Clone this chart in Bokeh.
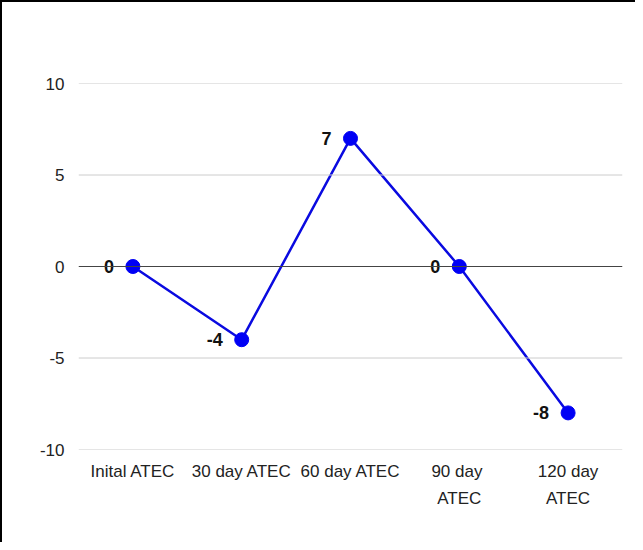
from bokeh.plotting import figure
from bokeh.models import FixedTicker, Span, ColumnDataSource, PrintfTickFormatter
from bokeh.core.properties import value
from bokeh.embed import file_html
from bokeh.resources import INLINE

categories = ["Inital ATEC", "30 day ATEC", "60 day ATEC", "90  day\nATEC", "120 day\nATEC"]
scores = [0, -4, 7, 0, -8]
score_labels = ["0", "-4", "7", "0", "-8"]
y_ticks = [-10, -5, 0, 5, 10]

src = ColumnDataSource(dict(x=categories, y=scores, t=score_labels))

p = figure(x_range=categories, y_range=(-10, 10), width=635, height=542,
           output_backend="svg", toolbar_location=None,
           min_border_left=76, min_border_right=15, min_border_top=81, min_border_bottom=95)
p.x_range.range_padding = 0
p.outline_line_color = None
p.background_fill_color = "white"
p.border_fill_color = "white"
p.styles = {"border-left": "2px solid black", "border-top": "2px solid black", "box-sizing": "border-box"}

p.xgrid.grid_line_color = None
p.ygrid.grid_line_color = None
p.yaxis.ticker = FixedTicker(ticks=y_ticks)
p.yaxis.formatter = PrintfTickFormatter(format="%d")

# horizontal gridlines (including the ones at the range edges)
for t in y_ticks:
    if t != 0:
        p.add_layout(Span(location=t, dimension="width", line_color="#cccccc", line_width=1))
p.add_layout(Span(location=0, dimension="width", line_color="#444444", line_width=1.2))

for ax in (p.xaxis, p.yaxis):
    ax.axis_line_color = None
    ax.major_tick_line_color = None
    ax.minor_tick_line_color = None
    ax.major_label_text_font = "Liberation Sans"
    ax.major_label_text_font_size = "17px"
    ax.major_label_text_color = "#222222"
p.yaxis.major_label_standoff = 8
p.xaxis.major_label_standoff = 6
p.xaxis.major_label_text_line_height = 1.45

p.line("x", "y", source=src, line_color="#0a0ae0", line_width=2.5)
p.scatter("x", "y", source=src, size=14, fill_color="#0000f5", line_color="#0000f5")
p.text("x", "y", text="t", source=src, x_offset=-19, text_align="right", text_baseline="middle",
       text_font=value("Liberation Sans"), text_font_style="bold", text_font_size="18px",
       text_color="#111111")

open("out.html", "w").write(file_html(p, INLINE))
